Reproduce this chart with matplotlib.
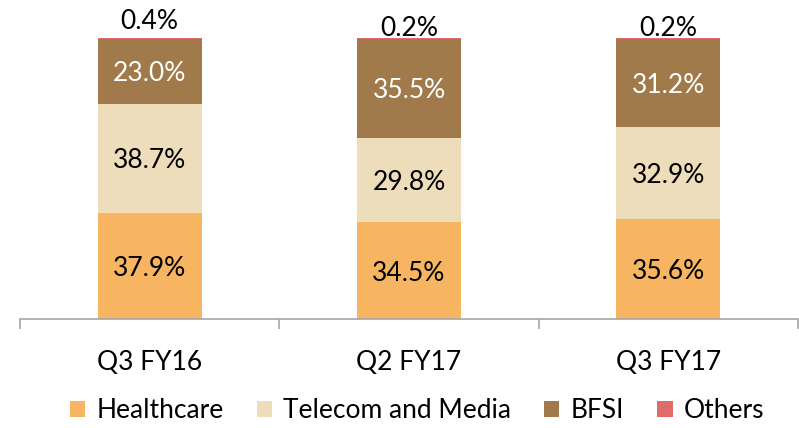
import matplotlib
matplotlib.use("Agg")
import matplotlib.pyplot as plt
from matplotlib.patches import Patch
import numpy as np

categories = ["Q3 FY16", "Q2 FY17", "Q3 FY17"]
healthcare = [37.9, 34.5, 35.6]
telecom = [38.7, 29.8, 32.9]
bfsi = [23.0, 35.5, 31.2]
others = [0.4, 0.2, 0.2]
series_names = ["Healthcare", "Telecom and Media", "BFSI", "Others"]
colors = ["#F7B461", "#EDDDBA", "#A07A4B", "#E06B6B"]
label_colors = ["black", "black", "white", None]

plt.rcParams['font.family'] = ['Lato', 'DejaVu Sans']
FS = 19

fig = plt.figure(figsize=(7.99, 4.28), dpi=100)
ax = fig.add_axes([20/799, 1-319/428, 778/799, (319-38)/428])

x = np.arange(len(categories))
series = [healthcare, telecom, bfsi, others]
bottom = np.zeros(len(categories))
for vals, col, lc in zip(series, colors, label_colors):
    vals = np.array(vals)
    ax.bar(x, vals, width=0.4, bottom=bottom, color=col, edgecolor='none')
    if lc is not None:
        for xi, b, v in zip(x, bottom, vals):
            ax.text(xi, b + v/2, f"{v:.1f}%", ha='center', va='center_baseline',
                    color=lc, fontsize=FS)
    bottom = bottom + vals

# Others labels above bars
offsets = [6.8, 4.3, 4.3]
for xi, tot, v, off in zip(x, bottom, others, offsets):
    ax.text(xi, tot + off, f"{v:.1f}%", ha='center', va='center_baseline',
            color='black', fontsize=FS)

ax.set_xlim(-0.5, 2.5)
ax.set_ylim(0, 100)
ax.set_yticks([])
for s in ['top', 'right', 'left']:
    ax.spines[s].set_visible(False)
ax.spines['bottom'].set_color('#A6A6A6')
ax.spines['bottom'].set_linewidth(1.2)
ax.set_xticks(x)
ax.set_xticklabels(categories, fontsize=FS)
ax.tick_params(axis='x', which='major', length=0, pad=22)
ax.set_xticks([-0.5, 0.5, 1.5, 2.5], minor=True)
ax.tick_params(axis='x', which='minor', length=7, color='#A6A6A6', width=1.2)

handles = [Patch(facecolor=c, edgecolor='none') for c in colors]
fig.legend(handles, series_names, loc='center', bbox_to_anchor=(417/799, 1-411/428),
           ncol=4, frameon=False, fontsize=FS, handlelength=0.58, handleheight=0.58,
           handletextpad=0.43, columnspacing=1.25)

fig.savefig("out.png", dpi=100)
